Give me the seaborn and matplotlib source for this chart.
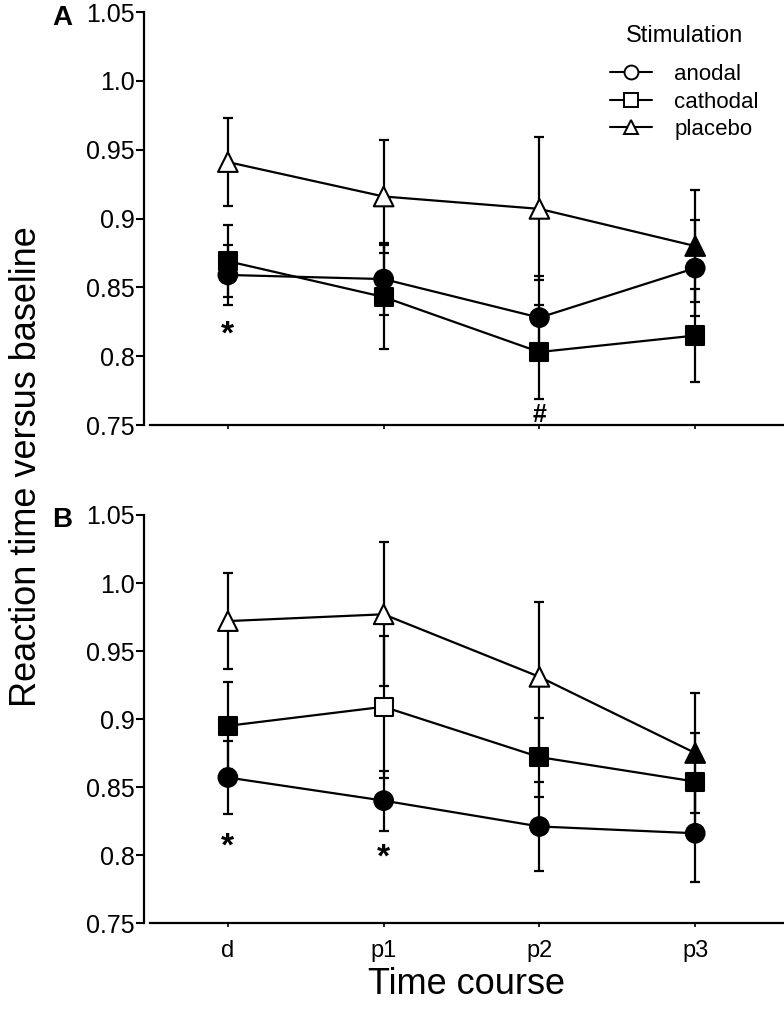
import numpy as np
import pandas as pd
import seaborn as sns
import matplotlib.pyplot as plt
from matplotlib.lines import Line2D

# time points on the x axis
time_points = ["d", "p1", "p2", "p3"]
stim_names = ["anodal", "cathodal", "placebo"]

# panel A: means, error (SEM) and filled/open marker flags
anodal_a = [0.859, 0.856, 0.828, 0.864]
anodal_a_err = [0.022, 0.026, 0.030, 0.035]
cathodal_a = [0.869, 0.843, 0.803, 0.815]
cathodal_a_err = [0.026, 0.038, 0.034, 0.034]
placebo_a = [0.941, 0.916, 0.907, 0.880]
placebo_a_err = [0.032, 0.041, 0.052, 0.041]
anodal_a_filled = [True, True, True, True]
cathodal_a_filled = [True, True, True, True]
placebo_a_filled = [False, False, False, True]

# panel B
anodal_b = [0.857, 0.840, 0.821, 0.816]
anodal_b_err = [0.027, 0.022, 0.033, 0.036]
cathodal_b = [0.895, 0.909, 0.872, 0.854]
cathodal_b_err = [0.032, 0.052, 0.029, 0.036]
placebo_b = [0.972, 0.977, 0.931, 0.875]
placebo_b_err = [0.035, 0.053, 0.055, 0.044]
anodal_b_filled = [True, True, True, True]
cathodal_b_filled = [True, False, True, True]
placebo_b_filled = [False, False, False, True]

# significance marks: (symbol, time point, y)
marks_a = [("*", "d", 0.815), ("#", "p2", 0.757)]
marks_b = [("*", "d", 0.806), ("*", "p1", 0.798)]

y_ticks = [0.75, 0.8, 0.85, 0.9, 0.95, 1.0, 1.05]
y_tick_labels = ["0.75", "0.8", "0.85", "0.9", "0.95", "1.0", "1.05"]

MARKERS = {"anodal": "o", "cathodal": "s", "placebo": "^"}
SIZES = {"anodal": 180, "cathodal": 170, "placebo": 200}


def build_df(means, errs, filled):
    rows = []
    for stim, m, e, f in zip(stim_names, means, errs, filled):
        for i, t in enumerate(time_points):
            rows.append({"time": t, "pos": i, "stim": stim,
                         "mean": m[i], "err": e[i], "filled": f[i]})
    return pd.DataFrame(rows)


df_a = build_df([anodal_a, cathodal_a, placebo_a],
                [anodal_a_err, cathodal_a_err, placebo_a_err],
                [anodal_a_filled, cathodal_a_filled, placebo_a_filled])
df_b = build_df([anodal_b, cathodal_b, placebo_b],
                [anodal_b_err, cathodal_b_err, placebo_b_err],
                [anodal_b_filled, cathodal_b_filled, placebo_b_filled])

sns.set_theme(style="ticks")
plt.rcParams["font.family"] = ["Liberation Sans", "DejaVu Sans"]
plt.rcParams["text.color"] = "black"
plt.rcParams["axes.labelcolor"] = "black"
plt.rcParams["xtick.color"] = "black"
plt.rcParams["ytick.color"] = "black"

fig = plt.figure(figsize=(7.84, 10.10), dpi=100)
ax_a = fig.add_axes([0.1913, 0.5792, 0.8087, 0.4089])
ax_b = fig.add_axes([0.1913, 0.0861, 0.8087, 0.4040])


def draw_panel(ax, df, marks, show_xlabels):
    for stim in stim_names:
        sub = df[df.stim == stim]
        ax.errorbar(sub.pos, sub["mean"], yerr=sub.err, fmt="none",
                    ecolor="black", elinewidth=1.6, capsize=3.3,
                    capthick=1.6, zorder=1)
    sns.lineplot(data=df, x="pos", y="mean", units="stim", estimator=None,
                 color="black", linewidth=1.6, sort=False, legend=False,
                 ax=ax, zorder=2)
    for stim in stim_names:
        sub = df[df.stim == stim]
        sns.scatterplot(data=sub, x="pos", y="mean", hue="filled",
                        palette={True: "black", False: "white"},
                        marker=MARKERS[stim], s=SIZES[stim],
                        edgecolor="black", linewidth=1.5, legend=False,
                        ax=ax, zorder=3)
    for sym, t, y in marks:
        ax.text(time_points.index(t), y, sym, ha="center", va="center",
                fontsize=24 if sym == "*" else 18, fontweight="bold")

    ax.set_xlim(-0.5, 3.57)
    ax.set_ylim(0.75, 1.05)
    ax.set_yticks(y_ticks)
    ax.set_yticklabels(y_tick_labels)
    ax.set_xticks(range(len(time_points)))
    ax.set_xticklabels(time_points if show_xlabels else [])
    ax.set_xlabel("")
    ax.set_ylabel("")
    ax.tick_params(axis="y", labelsize=18, length=6, width=1.5, pad=1,
                   color="black", labelcolor="black")
    ax.tick_params(axis="x", labelsize=17, length=3, width=1.2, pad=9,
                   color="black", labelcolor="black")
    for side in ["top", "right"]:
        ax.spines[side].set_visible(False)
    for side in ["left", "bottom"]:
        ax.spines[side].set_linewidth(1.6)
        ax.spines[side].set_color("black")
    ax.spines["left"].set_position(("outward", 4))


draw_panel(ax_a, df_a, marks_a, False)
draw_panel(ax_b, df_b, marks_b, True)

handles = [Line2D([], [], color="black", linewidth=1.5, marker=MARKERS[s],
                  markersize=10, markerfacecolor="white",
                  markeredgecolor="black", markeredgewidth=1.4)
           for s in stim_names]
leg = fig.legend(handles, stim_names, title="Stimulation", loc="upper left",
                 bbox_to_anchor=(0.778, 0.975), frameon=False, fontsize=16,
                 title_fontsize=17, handlelength=1.9, handletextpad=1.0,
                 labelspacing=0.3, borderaxespad=0, borderpad=0)
leg._legend_box.sep = 12

fig.text(62 / 784, 1 - 18 / 1010, "A", fontsize=20, fontweight="bold",
         ha="center", va="center")
fig.text(62 / 784, 1 - 520 / 1010, "B", fontsize=20, fontweight="bold",
         ha="center", va="center")
fig.text(27 / 784, 1 - 467 / 1010, "Reaction time versus baseline",
         rotation=90, fontsize=26, ha="center", va="center")
fig.text(467 / 784, 1 - 985 / 1010, "Time course", fontsize=26,
         ha="center", va="center")

fig.savefig("out.png", dpi=100)
